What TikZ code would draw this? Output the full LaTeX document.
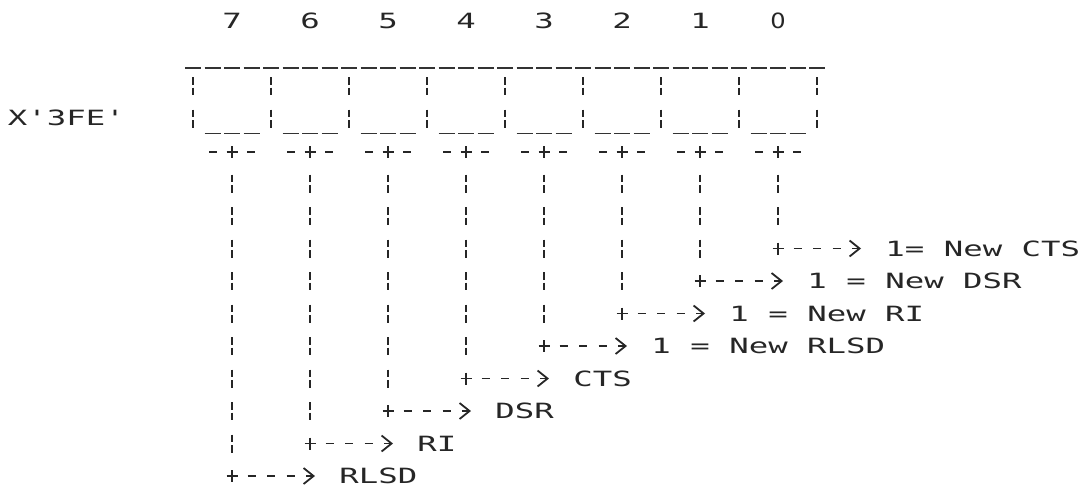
\documentclass[tikz,border=0pt]{standalone}
\usepackage{fontspec}
\usetikzlibrary{arrows.meta}
\newfontfamily\dotfont[FakeStretch=1.54]{DejaVu Sans Mono}
\newfontfamily\zerofont[FakeStretch=1.15]{DejaVu Sans}
\tikzset{
  ink/.style={draw=black!85, line width=1.8pt},
  txt/.style={font=\dotfont\fontsize{21}{21}\selectfont, text=black!85, inner sep=0pt},
  lab/.style={txt, anchor=base west},
  digit/.style={txt, anchor=base},
  cell/.style={draw=none, minimum width=78pt, minimum height=65pt, inner sep=0pt},
  uline/.style={draw=black!80, line width=1.2pt, dash pattern=on 16pt off 3.5pt},
  vbar/.style={ink, dash pattern=on 7.5pt off 3pt on 7.5pt off 14.5pt},
  vconn/.style={vbar, dash phase=19pt, shorten <=9pt, shorten >=9.5pt},
  hconn/.style={ink, dash pattern=on 8pt off 11.5pt, shorten <=15.5pt, shorten >=24.25pt,
    -{Straight Barb[length=10pt,width=16pt,line width=1.8pt]}},
}
\newcommand\plusmark[1]{\draw[ink] (#1) +(-5.5,0) -- +(5.5,0) (#1) +(0,-6) -- +(0,6);}
\begin{document}
\begin{tikzpicture}[x=1pt, y=-1pt]
\useasboundingbox (0,0) rectangle (1081,488);
% register label
\node[lab] (reg) at (7.75,125.6) {X'3FE'};
% top line of the register
\draw[uline] (185,68) -- (825,68);
% cells, digits, bars
\foreach \k in {0,...,7}{
  \pgfmathtruncatemacro\b{7-\k}
  \node[cell] (c\b) at ({232+78*\k},100.5) {};
  \draw[uline] ([xshift=11.75pt]c\b.south west) -- ++(55,0);
}
\foreach \k in {0,...,6}{
  \pgfmathtruncatemacro\b{7-\k}
  \node[digit] (d\b) at ({232+78*\k},28.6) {\b};
}
\node[digit, font=\zerofont\fontsize{21}{21}\selectfont] (d0) at ({232+78*7},28.6) {0};
\foreach \k in {0,...,8}{
  \draw[vbar] ({193+78*\k},77) -- ({193+78*\k},127.5);
}
% labels
\node[lab] (l0) at ({232+78*7+107.25},{21+32.5*7+7.6}) {1= New CTS};
\node[lab] (l1) at ({232+78*6+107.25},{21+32.5*8+7.6}) {1 = New DSR};
\node[lab] (l2) at ({232+78*5+107.25},{21+32.5*9+7.6}) {1 = New RI};
\node[lab] (l3) at ({232+78*4+107.25},{21+32.5*10+7.6}) {1 = New RLSD};
\node[lab] (l4) at ({232+78*3+107.25},{21+32.5*11+7.6}) {CTS};
\node[lab] (l5) at ({232+78*2+107.25},{21+32.5*12+7.6}) {DSR};
\node[lab] (l6) at ({232+78*1+107.25},{21+32.5*13+7.6}) {RI};
\node[lab] (l7) at ({232+107.25},{21+32.5*14+7.6}) {RLSD};
% connectors
\foreach \b in {0,...,7}{
  \coordinate (t\b) at ([yshift=-19pt]c\b.south);
  \coordinate (p\b) at ({232+78*(7-\b)},{21+32.5*(7+\b)});
  \plusmark{t\b}
  \draw[ink] (t\b) +(-23,0) -- +(-15,0) (t\b) +(15,0) -- +(23,0);
  \draw[vconn] (t\b) -- (p\b);
  \plusmark{p\b}
  \draw[hconn] (p\b) -- (p\b -| l\b.west);
}
\end{tikzpicture}
\end{document}
